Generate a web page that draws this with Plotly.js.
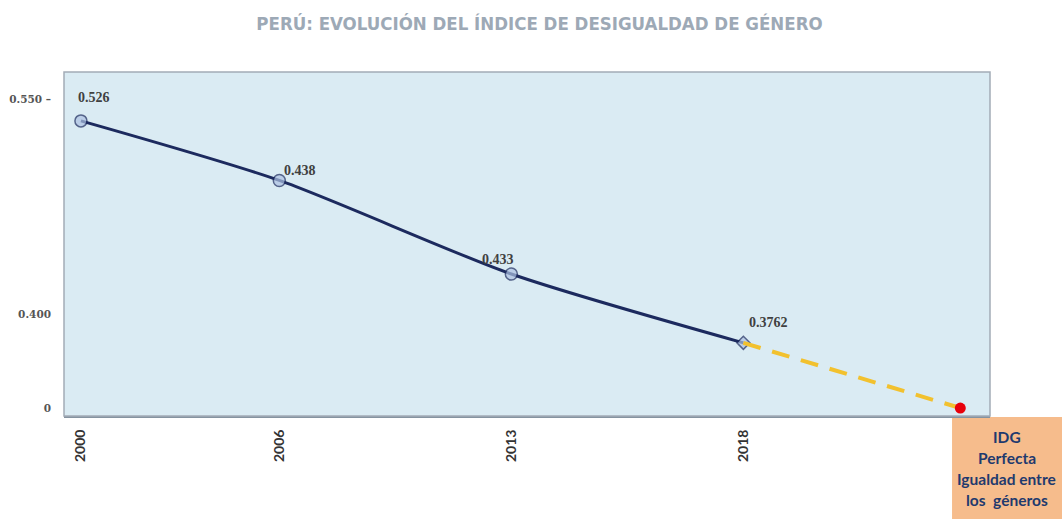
<!DOCTYPE html>
<html>
<head>
<meta charset="utf-8">
<script src="https://cdn.plot.ly/plotly-3.0.1.min.js"></script>
<style>html,body{margin:0;padding:0;background:#fff;}#chart{width:1062px;height:519px;}</style>
</head>
<body>
<div id="chart"></div>
<script>
// ---- data ----
var years = ['2000', '2006', '2013', '2018'];
var idgValues = [0.526, 0.438, 0.433, 0.3762];          // printed values
// the original chart is not drawn to scale: level and position of each point as drawn
var drawnLevel = [0.511, 0.405, 0.2385, 0.116];
var drawnPos = [0, 0.855, 1.855, 2.855];
var targetPos = 3.79;   // "IDG perfecta" point
var targetValue = 0;
var yTickText = ['0', '0.400', '0.550 \u2013'];
var yTickLevel = [0, 0.167, 0.55];
var boxLines = ['IDG', 'Perfecta', 'Igualdad entre', 'los  géneros'];

var navy = '#1C2A5E';

var mainTrace = {
  x: drawnPos, y: drawnLevel, type: 'scatter', mode: 'lines+markers',
  line: {color: navy, width: 3, shape: 'spline', smoothing: 0.7},
  marker: {symbol: ['circle', 'circle', 'circle', 'diamond'], size: [12, 12, 12, 10],
           color: '#ADC1E2', line: {color: navy, width: 1.5}},
  hoverinfo: 'skip', showlegend: false
};
var dashTrace = {
  x: [drawnPos[3], targetPos], y: [drawnLevel[3], targetValue], type: 'scatter', mode: 'lines',
  line: {color: '#F2C12E', width: 4, dash: '18px,12px'},
  hoverinfo: 'skip', showlegend: false
};
var targetTrace = {
  x: [targetPos], y: [targetValue], type: 'scatter', mode: 'markers',
  marker: {color: '#E8000B', size: 11, symbol: 'circle'},
  hoverinfo: 'skip', showlegend: false
};

var labelShift = [[13, 23], [21, 10], [-13, 15], [25, 20]];
var annotations = idgValues.map(function (v, i) {
  return {
    x: drawnPos[i], y: drawnLevel[i], xref: 'x', yref: 'y', text: '<b>' + String(v) + '</b>',
    showarrow: false, xshift: labelShift[i][0], yshift: labelShift[i][1],
    font: {family: 'Liberation Serif', size: 14, color: '#404040'}
  };
});
var lineY = [-0.061, -0.122, -0.183, -0.243];
boxLines.forEach(function (t, i) {
  annotations.push({
    x: 1.018, y: lineY[i], xref: 'paper', yref: 'paper', text: '<b>' + t + '</b>',
    showarrow: false, xanchor: 'center', yanchor: 'middle',
    font: {family: 'Lato', size: 15.5, color: '#1F3A6E'}
  });
});

var layout = {
  width: 1062, height: 519,
  margin: {l: 64, r: 72, t: 72, b: 103},
  paper_bgcolor: '#ffffff', plot_bgcolor: '#DAEBF3',
  title: {
    text: '<b>PERÚ: EVOLUCIÓN DEL ÍNDICE DE DESIGUALDAD DE GÉNERO</b>',
    x: 0.508, xanchor: 'center', xref: 'container',
    y: 0.955, yanchor: 'middle', yref: 'container',
    font: {family: 'DejaVu Sans Condensed, Liberation Sans Narrow, sans-serif', size: 18.5, color: '#9DA9B6'}
  },
  xaxis: {
    range: [-0.073, 3.918], tickvals: drawnPos, ticktext: years, tickangle: -90,
    showgrid: false, zeroline: false, showline: true, linecolor: '#8593A0', linewidth: 2,
    ticks: '', ticklabelstandoff: 6,
    tickfont: {family: 'Lato', size: 14, color: '#333333', weight: 'bold'},
    mirror: false, fixedrange: true
  },
  yaxis: {
    range: [-0.0142, 0.598], tickvals: yTickLevel, ticktext: yTickText,
    showgrid: false, zeroline: false, showline: false, ticks: '', ticklabelstandoff: 12,
    tickfont: {family: 'DejaVu Serif', size: 10.5, color: '#555555', weight: 'bold'}, fixedrange: true
  },
  shapes: [
    {type: 'rect', xref: 'paper', yref: 'paper', x0: 0, x1: 1, y0: 0, y1: 1,
     line: {color: '#A3ACB6', width: 1.5}, fillcolor: 'rgba(0,0,0,0)', layer: 'above'},
    {type: 'rect', xref: 'paper', yref: 'paper', x0: 0.959, x1: 1.08, y0: -0.003, y1: -0.31,
     line: {width: 0}, fillcolor: '#F6BC8C', layer: 'below'}
  ],
  annotations: annotations
};

Plotly.newPlot('chart', [mainTrace, dashTrace, targetTrace], layout, {displayModeBar: false, staticPlot: true});
</script>
</body>
</html>
